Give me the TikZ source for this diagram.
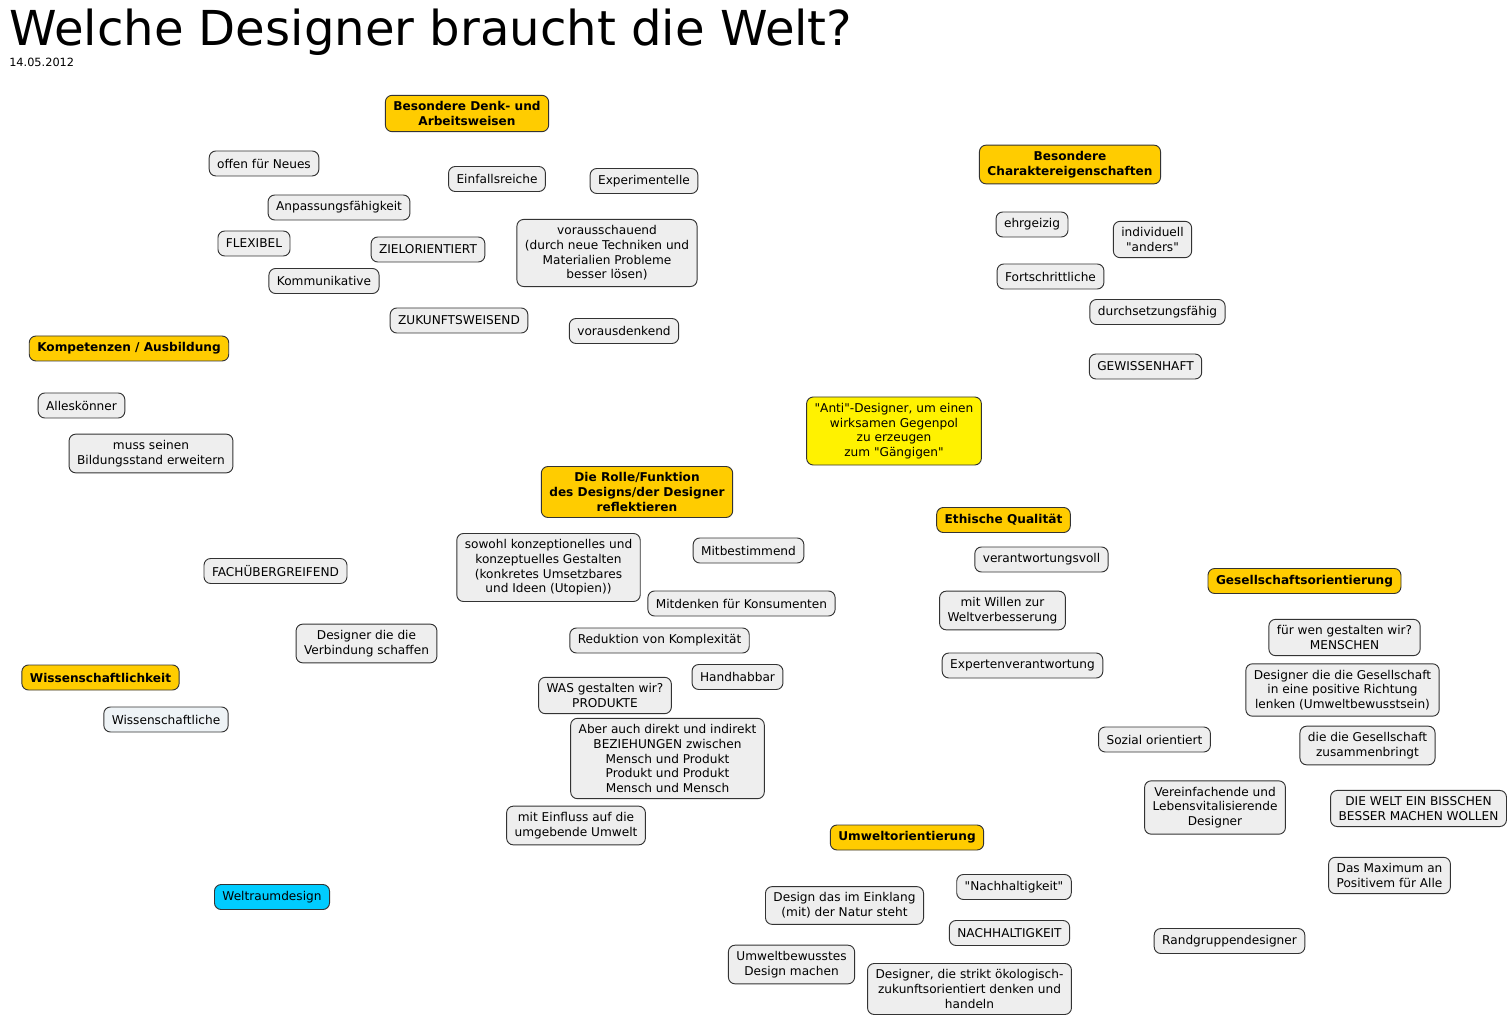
\documentclass[tikz,border=0pt]{standalone}
\usepackage{fontspec}
\setmainfont{DejaVu Sans}
\usepackage{tikz}
\usetikzlibrary{positioning}
\definecolor{topicgold}{HTML}{FFCC00}
\definecolor{ideagray}{HTML}{EEEEEE}
\definecolor{ideablue}{HTML}{EEF3F6}
\definecolor{spacecyan}{HTML}{00CCFF}
\definecolor{rimgray}{HTML}{333333}
\newcommand{\qd}{\textquotedbl}
\tikzset{
    idea/.style={
        rectangle, rounded corners=5pt,
        draw=rimgray, line width=0.7pt,
        fill=ideagray, align=center,
        inner xsep=6pt, inner ysep=4.6pt,
        minimum height=18.75pt,
        font=\fontsize{9.1}{11}\selectfont
    },
    topic/.style={
        idea,
        fill=topicgold,
        font=\fontsize{9.1}{11}\selectfont\bfseries
    },
    note/.style={idea, fill=yellow},
    space/.style={idea, fill=spacecyan}
}
\begin{document}
\begin{tikzpicture}[x=0.75pt, y=-0.75pt]
    \useasboundingbox (0,0) rectangle (1509,1019);
    % title
    \node[anchor=base west, inner sep=0pt, font=\fontsize{36.1}{40}\selectfont] (title) at (9,46) {Welche Designer braucht die Welt?};
    \node[anchor=base west, inner sep=0pt, font=\fontsize{8.5}{10}\selectfont] (date) at (9,67) {14.05.2012};

    % Besondere Denk- und Arbeitsweisen
    \node[topic] (denk) at (467,113.5) {Besondere Denk- und\\Arbeitsweisen};
    \node[idea] (offen) at (264,163.5) {offen für Neues};
    \node[idea] (einfall) at (497,179) {Einfallsreiche};
    \node[idea] (experiment) at (644,181) {Experimentelle};
    \node[idea] (anpass) at (339,207.5) {Anpassungsfähigkeit};
    \node[idea] (flexibel) at (254,243.5) {FLEXIBEL};
    \node[idea] (ziel) at (428,249.5) {ZIELORIENTIERT};
    \node[idea] (voraus) at (607,253) {vorausschauend\\(durch neue Techniken und\\Materialien Probleme\\besser lösen)};
    \node[idea] (kommun) at (324,281) {Kommunikative};
    \node[idea] (zukunft) at (459,320.5) {ZUKUNFTSWEISEND};
    \node[idea] (vordenk) at (624,331) {vorausdenkend};

    % Besondere Charaktereigenschaften
    \node[topic] (charakter) at (1070,164.5) {Besondere\\Charaktereigenschaften};
    \node[idea] (ehrgeiz) at (1032,224.5) {ehrgeizig};
    \node[idea] (indiv) at (1152.5,239.5) {individuell\\\qd anders\qd};
    \node[idea] (fortschritt) at (1050.5,276.5) {Fortschrittliche};
    \node[idea] (durchsetz) at (1157.5,312) {durchsetzungsfähig};
    \node[idea] (gewissen) at (1145.5,366.5) {GEWISSENHAFT};

    % Kompetenzen / Ausbildung
    \node[topic] (kompetenz) at (129,348.5) {Kompetenzen / Ausbildung};
    \node[idea] (alles) at (81.5,405.5) {Alleskönner};
    \node[idea] (bildung) at (151,453.5) {muss seinen\\Bildungsstand erweitern};

    \node[note] (anti) at (894,431) {\qd Anti\qd -Designer, um einen\\wirksamen Gegenpol\\zu erzeugen\\zum \qd Gängigen\qd};

    % Rolle / Funktion
    \node[topic] (rolle) at (637,492) {Die Rolle/Funktion\\des Designs/der Designer\\reflektieren};
    \node[idea] (konzept) at (548.5,567.5) {sowohl konzeptionelles und\\konzeptuelles Gestalten\\(konkretes Umsetzbares\\und Ideen (Utopien))};
    \node[idea] (mitbest) at (748.5,550.5) {Mitbestimmend};
    \node[idea] (mitdenk) at (741.5,603.5) {Mitdenken für Konsumenten};
    \node[idea] (reduktion) at (659.5,640.5) {Reduktion von Komplexität};
    \node[idea] (handhab) at (737.5,677) {Handhabbar};
    \node[idea] (produkte) at (605,695.5) {WAS gestalten wir?\\PRODUKTE};
    \node[idea] (beziehung) at (667.5,758.5) {Aber auch direkt und indirekt\\BEZIEHUNGEN zwischen\\Mensch und Produkt\\Produkt und Produkt\\Mensch und Mensch};
    \node[idea] (einfluss) at (576,825.5) {mit Einfluss auf die\\umgebende Umwelt};

    \node[idea] (fach) at (275.5,571) {FACHÜBERGREIFEND};
    \node[idea] (verbind) at (366.5,643.5) {Designer die die\\Verbindung schaffen};

    % Wissenschaftlichkeit
    \node[topic] (wissen) at (100.5,677.5) {Wissenschaftlichkeit};
    \node[idea, fill=ideablue] (wissliche) at (166,719.5) {Wissenschaftliche};

    \node[space] (weltraum) at (272,897) {Weltraumdesign};

    % Ethische Qualitaet
    \node[topic] (ethik) at (1003.5,520) {Ethische Qualität};
    \node[idea] (verantw) at (1041.5,559.5) {verantwortungsvoll};
    \node[idea] (willen) at (1002.5,610.5) {mit Willen zur\\Weltverbesserung};
    \node[idea] (experten) at (1022.5,665.5) {Expertenverantwortung};

    % Gesellschaftsorientierung
    \node[topic] (gesell) at (1304.5,581) {Gesellschaftsorientierung};
    \node[idea] (menschen) at (1344.5,637.5) {für wen gestalten wir?\\MENSCHEN};
    \node[idea] (lenken) at (1342.5,690) {Designer die die Gesellschaft\\in eine positive Richtung\\lenken (Umweltbewusstsein)};
    \node[idea] (zusammen) at (1367.5,745.5) {die die Gesellschaft\\zusammenbringt};
    \node[idea] (sozial) at (1154.5,739.5) {Sozial orientiert};
    \node[idea] (vereinf) at (1215,807.5) {Vereinfachende und\\Lebensvitalisierende\\Designer};
    \node[idea] (besser) at (1418.5,808.5) {DIE WELT EIN BISSCHEN\\BESSER MACHEN WOLLEN};
    \node[idea] (maximum) at (1389.5,875.5) {Das Maximum an\\Positivem für Alle};
    \node[idea] (randgr) at (1229.5,941) {Randgruppendesigner};

    % Umweltorientierung
    \node[topic] (umwelt) at (907,837.5) {Umweltorientierung};
    \node[idea] (nachhq) at (1014,887) {\qd Nachhaltigkeit\qd};
    \node[idea] (einklang) at (844.5,905.5) {Design das im Einklang\\(mit) der Natur steht};
    \node[idea] (nachh) at (1009.5,933) {NACHHALTIGKEIT};
    \node[idea] (umweltbew) at (791.5,964.5) {Umweltbewusstes\\Design machen};
    \node[idea] (oeko) at (969.5,989) {Designer, die strikt ökologisch-\\zukunftsorientiert denken und\\handeln};
\end{tikzpicture}
\end{document}
